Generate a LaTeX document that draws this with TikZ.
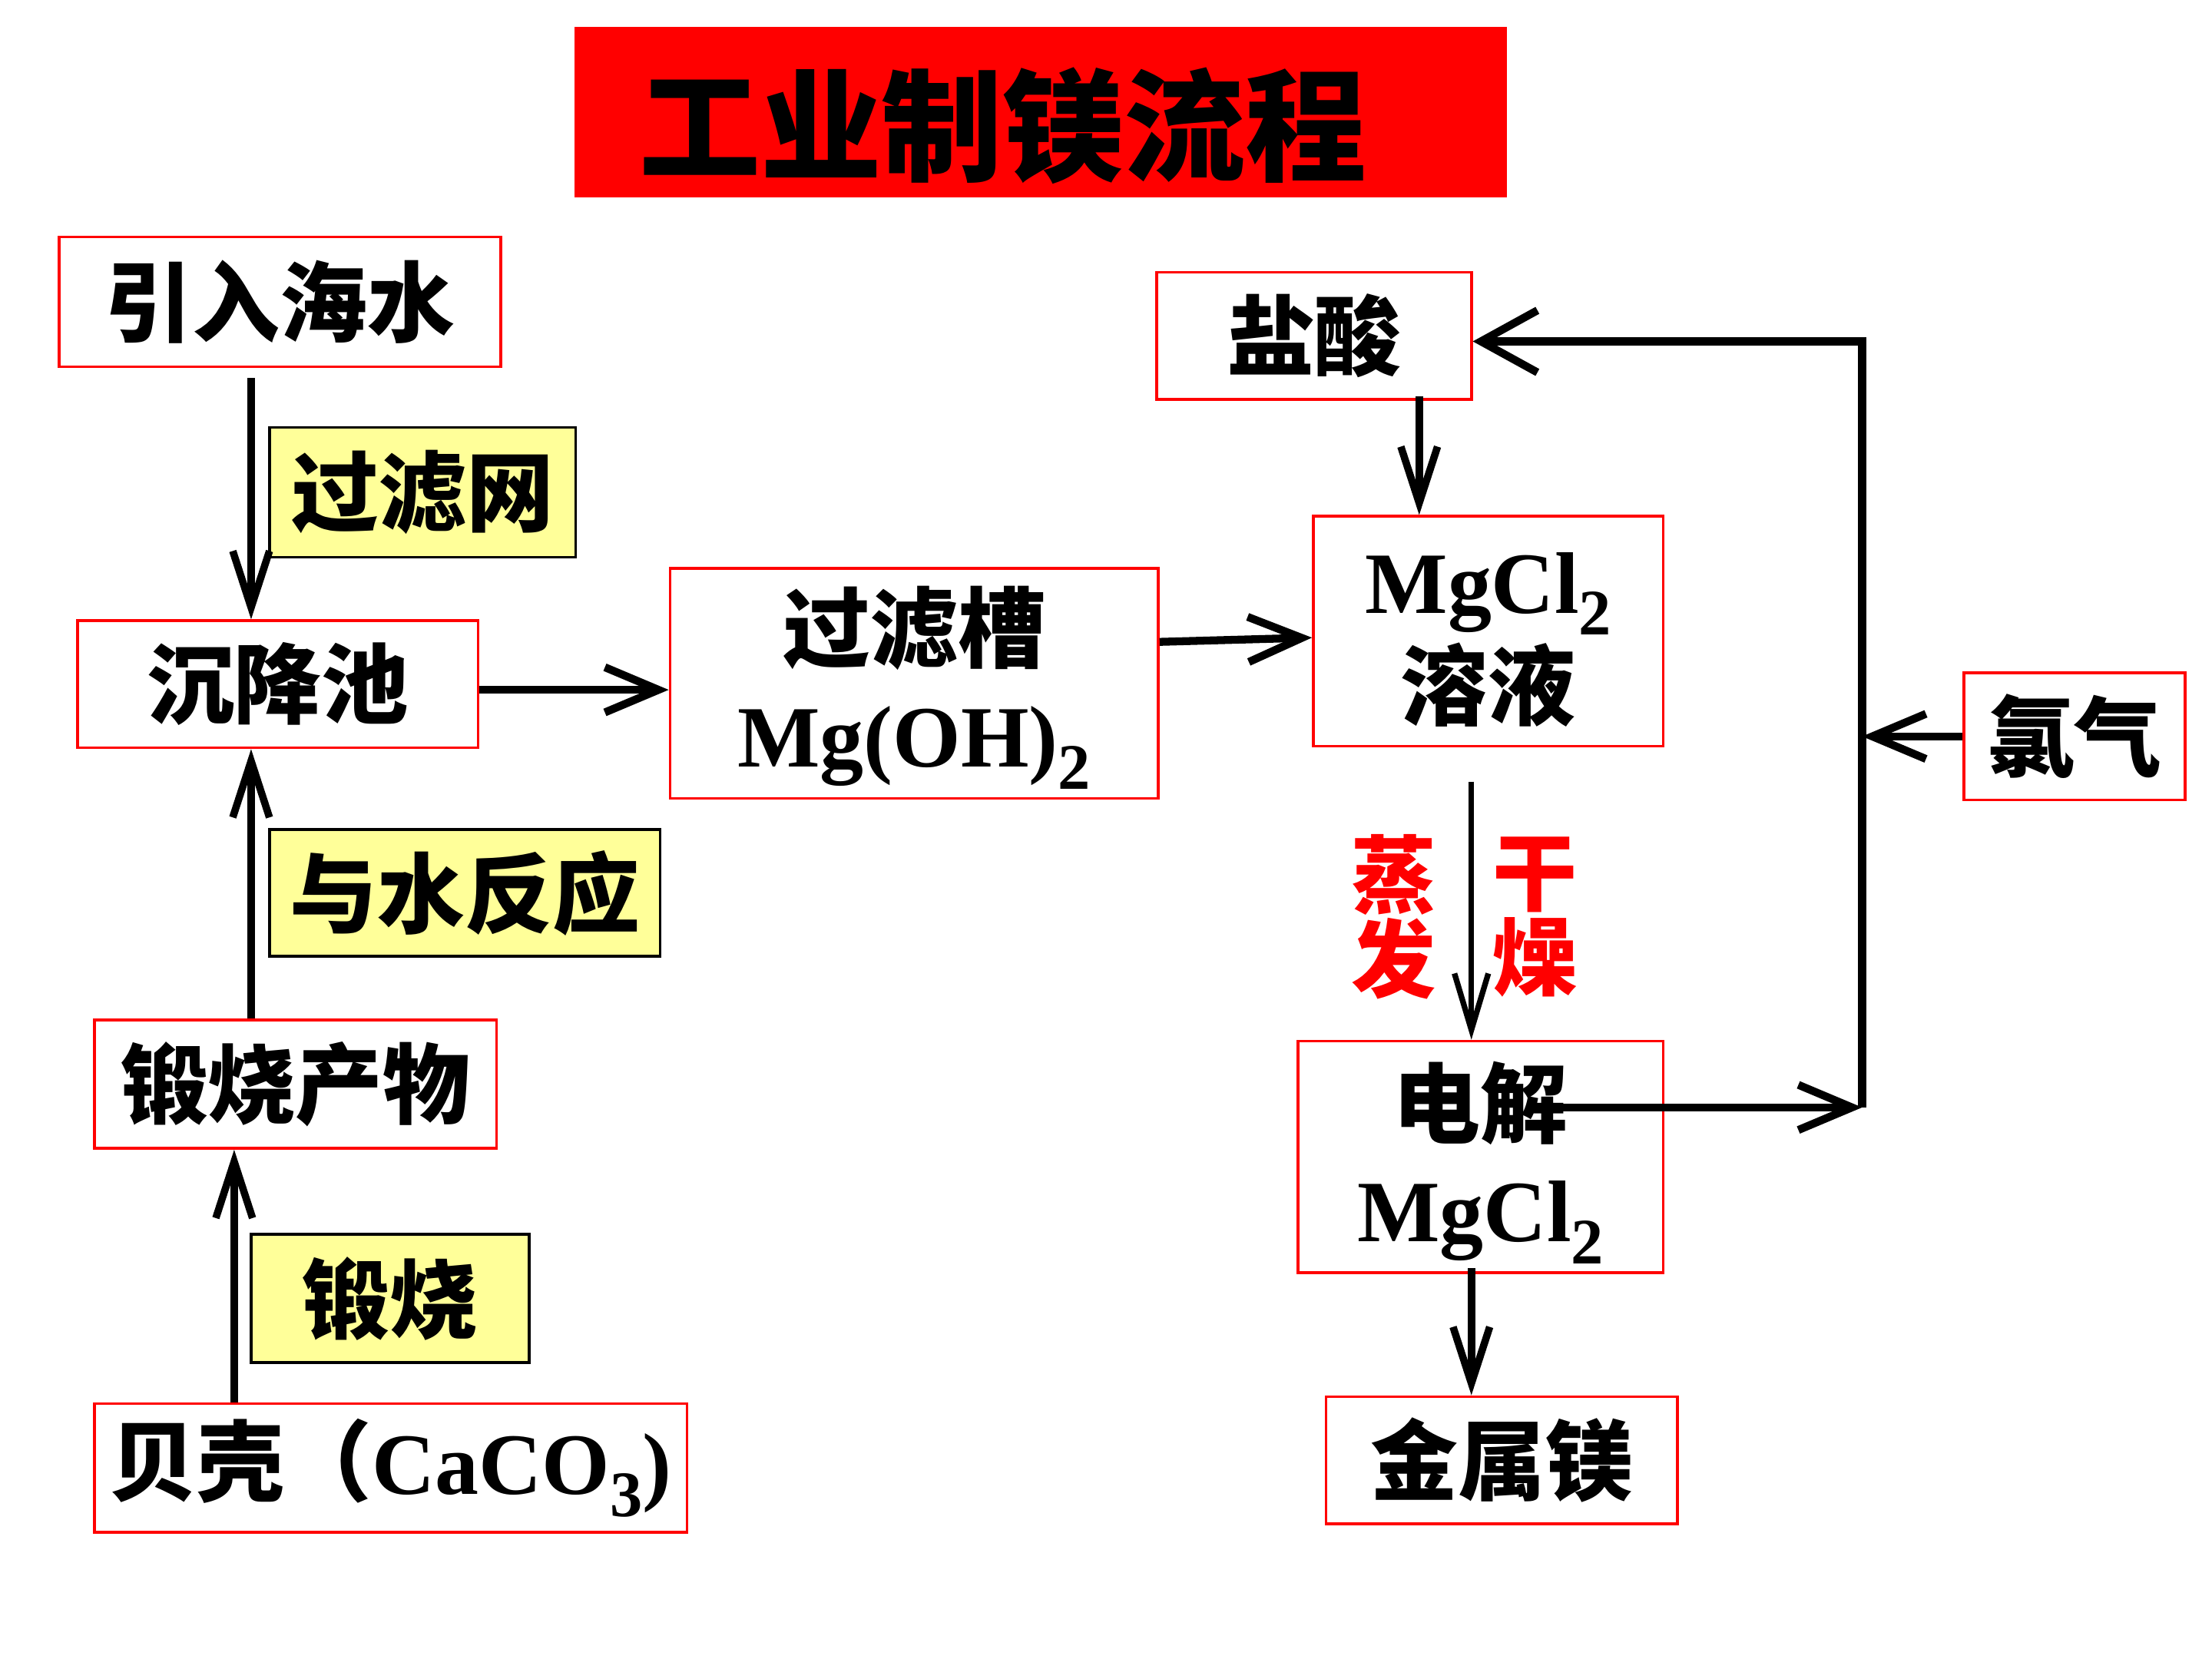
\documentclass[tikz,border=0pt]{standalone}
\usepackage{fontspec}
\setmainfont{Liberation Serif}
\newfontfamily\cjk{Noto Sans CJK SC}
\usetikzlibrary{arrows.meta}
\newcommand\zh[1]{{\cjk\bfseries #1}}
\newcommand\chsub[1]{\raisebox{-0.25em}{\fontsize{23}{23}\selectfont #1}}
\definecolor{boxred}{HTML}{FF0000}
\definecolor{lblyellow}{HTML}{FFFF99}
\tikzset{
  redbox/.style={draw=boxred, line width=1pt, fill=white, inner sep=0pt, align=center,
    font=\fontsize{31}{37}\selectfont\bfseries},
  yelbox/.style={draw=black, line width=1pt, fill=lblyellow, inner sep=0pt, align=center,
    font=\fontsize{31}{37}\selectfont\bfseries},
  boxtext/.style={inner sep=0pt, align=center, font=\fontsize{31}{37.5}\selectfont\bfseries},
  arr/.style={line width=2.6pt, -{Straight Barb[length=20pt,width=13pt,line width=2.6pt]}},
  arrw/.style={line width=2.8pt, -{Straight Barb[length=19pt,width=16pt,line width=2.8pt]}},
  arrbig/.style={line width=2.8pt, -{Straight Barb[length=20pt,width=22pt,line width=2.8pt]}},
  arrthin/.style={line width=2pt, -{Straight Barb[length=20pt,width=12pt,line width=2pt]}},
  redlbl/.style={text=boxred, inner sep=0pt, align=center, font=\fontsize{30}{30}\selectfont\bfseries},
}
\begin{document}
\begin{tikzpicture}[x=0.5pt,y=-0.5pt]
\useasboundingbox[fill=white] (0,0) rectangle (1568,1176);
% title
\node[fill=boxred, minimum width=330.5pt, minimum height=60.5pt, inner sep=0pt] (title) at (737.5,79.5) {};
\node[inner sep=0pt, font=\fontsize{43}{43}\selectfont\bfseries] (titletext) at (711,89) {\zh{工业制镁流程}};
% left column
\node[redbox, minimum width=156.5pt, minimum height=46pt] (sea) at (198.5,214) {\zh{引入海水}};
\node[yelbox, minimum width=108.5pt, minimum height=46pt] (filt) at (299.5,349) {\zh{过滤网}};
\node[redbox, minimum width=142pt, minimum height=45pt] (sed) at (197,485) {\zh{沉降池}};
\node[yelbox, minimum width=138.5pt, minimum height=45pt] (react) at (329.5,633) {\zh{与水反应}};
\node[redbox, minimum width=142.5pt, minimum height=45.5pt] (calc) at (209.5,768.5) {\zh{锻烧产物}};
\node[yelbox, minimum width=98.5pt, minimum height=45.5pt] (burn) at (276.5,920.5) {\zh{锻烧}};
\node[redbox, minimum width=210pt, minimum height=45.5pt] (shell) at (277,1040.5) {\zh{贝壳（}CaCO\chsub{3})};
% middle / right
\node[redbox, minimum width=173pt, minimum height=81.5pt] (tank) at (648,484.5) {};
\node[boxtext] (tanktxt) at ([yshift=-1.5pt]tank.center) {\zh{过滤槽}\\Mg(OH)\chsub{2}};
\node[redbox, minimum width=111.5pt, minimum height=45pt] (hcl) at (931.5,238) {\zh{盐酸}};
\node[redbox, minimum width=124pt, minimum height=81.5pt] (sol) at (1055,447.5) {};
\node[boxtext] (soltxt) at ([yshift=-3pt]sol.center) {MgCl\chsub{2}\\\zh{溶液}};
\node[redbox, minimum width=78.5pt, minimum height=45pt] (cl2) at (1470.5,522) {\zh{氯气}};
\node[redbox, minimum width=129.5pt, minimum height=82pt, fill=none] (elec) at (1049.5,820) {};
\node[boxtext] (electxt) at ([yshift=-2pt]elec.center) {\zh{电解}\\MgCl\chsub{2}};
\node[redbox, minimum width=124.5pt, minimum height=45pt] (mg) at (1064.5,1035) {\zh{金属镁}};
% red labels
\node[redlbl] (evap) at (988,650) {\zh{蒸}\\\zh{发}};
\node[redlbl] (dry) at (1088,650) {\zh{干}\\\zh{燥}};
% helper coordinates
\coordinate (xa) at (178,0);
\coordinate (xb) at (166,0);
\coordinate (ya) at (0,489);
\coordinate (xc) at (1006,0);
\coordinate (xd) at (1043,0);
\coordinate (eo) at (1095,785);
\coordinate (c1) at (1320,785);
\coordinate (c2) at (1320,242);
% connectors
\draw[arr] ([yshift=-3.5pt]sea.south -| xa) -- (sed.north -| xa);
\draw[arr] (shell.north -| xb) -- (calc.south -| xb);
\draw[arr] (calc.north -| xa) -- (sed.south -| xa);
\draw[arrw] (sed.east |- ya) -- (tank.west |- ya);
\draw[arrw] ([yshift=14.75pt]tank.east) -- ([yshift=-2.25pt]sol.west);
\draw[arr] ([yshift=1.5pt]hcl.south -| xc) -- (sol.north -| xc);
\draw[arrthin] ([yshift=-12pt]sol.south -| xd) -- (elec.north -| xd);
\draw[arr] ([yshift=2pt]elec.south -| xd) -- (mg.north -| xd);
\draw[arrw] (eo) -- (c1);
\draw[arrbig, line join=miter] (c1) -- (c2) -- (hcl.east |- c2);
\draw[arrw] (cl2.west) -- (cl2.west -| c1);
\end{tikzpicture}
\end{document}
